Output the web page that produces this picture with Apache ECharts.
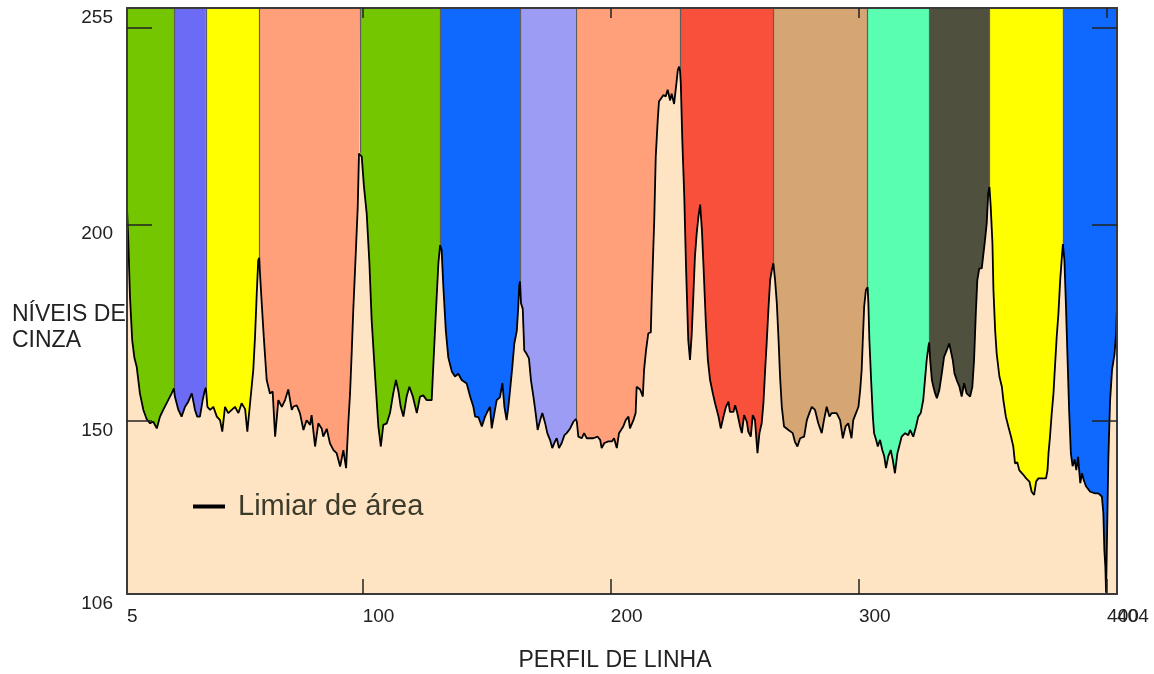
<!DOCTYPE html>
<html>
<head>
<meta charset="utf-8">
<title>Perfil de linha</title>
<script src="https://cdn.jsdelivr.net/npm/echarts@6/dist/echarts.min.js"></script>
<style>
  html, body { margin: 0; padding: 0; background: #ffffff; }
  #chart { width: 1154px; height: 674px; }
</style>
</head>
<body>
<div id="chart"></div>
<script>
// Grey level sampled along the scan line: [position, grey level]
const profile = [
  [5.0,204],[5.5,196.4],[6.2,181.6],[7.1,170.5],[8.0,166],[8.9,163.8],[10.2,157.0],[11.6,152.8],[12.9,150.5],[14.3,149.4],[15.6,149.8],[17.0,148.1],[18.3,151.1],[19.6,152.8],[21.6,155.3],[23.0,157.0],[23.9,158.3],
  [24.3,156.2],[25.7,152.8],[27.0,151.1],[28.4,153.6],[29.7,154.9],[31.1,157.0],[32.4,152.8],[33.3,151.1],[34.4,151.1],[35.5,155.3],[36.4,157.9],[36.8,158.5],
  [37.4,153.6],[38.5,152.8],[39.8,153.6],[41.2,151.1],[42.5,150.2],[43.4,147.3],[44.5,153.6],[45.8,152.0],[47.2,152.8],[48.5,153.6],[49.9,152.0],[51.2,154.5],[52.6,153.0],[53.5,147.3],[54.6,154.5],[55.9,163.0],[56.6,171.4],[57.3,182.5],[57.9,190.9],[58.3,191.5],
  [58.6,187.5],[59.3,179.9],[60.2,170.6],[61.3,160.4],[62.6,157.0],[63.7,157.5],[64.7,146.0],[66.0,155.3],[67.4,153.6],[68.7,155.3],[70.0,158.0],[71.4,152.8],[72.0,153.6],[73.4,154.0],[74.7,152.0],[76.1,147.7],[77.4,150.2],[78.8,149.0],[79.4,151.5],[80.8,143.5],[82.1,149.4],[83.5,148.0],[84.1,146.0],[85.5,148.0],[86.8,144.3],[88.2,142.6],[89.5,141.8],[90.9,138.4],[92.2,142.6],[93.3,138.0],[94.2,149.4],[94.9,157.0],[95.6,168.0],[96.2,178.2],[97.2,192.6],[98.0,204.5],[98.5,218.0],[98.9,218.2],
  [99.6,217.2],[100.5,209.6],[101.6,202.8],[102.7,190.1],[103.6,175.7],[105.0,161.3],[106.3,148.6],[107.3,143.5],[108.3,149.0],[109.7,149.4],[111.0,152.0],[112.3,157.0],[113.4,160.4],[114.4,157.5],[115.3,153.6],[116.4,151.1],[117.7,156.2],[118.8,158.7],[120.2,156.2],[121.8,152.0],[123.1,156.2],[124.4,156.5],[125.8,155.3],[127.8,155.3],[128.5,164.7],[129.4,176.5],[130.5,190.1],[131.2,194.7],
  [131.8,193.5],[132.5,184.1],[133.5,172.9],[134.5,166.1],[135.9,162.6],[137.2,161.3],[138.5,162.0],[139.9,160.4],[141.9,159.5],[143.3,156.2],[144.6,153.6],[145.3,151.1],[146.6,151.0],[148.0,148.6],[149.3,151.1],[150.6,152.8],[151.3,153.6],[152.0,148.1],[153.3,152.8],[154.0,155.3],[155.3,156.0],[156.3,159.6],[157.1,153.6],[158.0,150.2],[158.7,153.6],[159.4,157.9],[160.3,163.8],[161.1,169.7],[162.1,172.9],[162.7,179.1],[163.1,184.6],[163.4,185.5],
  [163.8,179.9],[164.5,178.5],[165.1,168.0],[166.1,167.0],[167.0,165.9],[167.8,160.4],[168.8,156.2],[169.7,152.0],[170.5,147.7],[171.5,150.2],[172.4,152.0],[173.5,149.5],[174.4,146.9],[175.5,145.2],[176.4,143.1],[177.5,144.8],[178.2,145.6],[179.1,143.1],[180.2,144.4],[181.3,146.4],[182.2,146.9],[183.6,148.1],[184.9,149.8],[185.6,150.2],[185.9,150.5],
  [186.3,149.8],[186.9,146.0],[188.3,145.6],[189.2,146.9],[190.3,145.6],[192.9,145.6],[194.7,146.0],[195.7,145.2],[196.3,143.1],[197.4,144.4],[199.0,144.8],[200.4,144.8],[201.3,145.6],[202.4,143.1],[203.3,146.9],[205.0,148.6],[206.0,150.2],[207.1,151.1],[207.7,148.1],[209.1,150.2],[210.0,152.0],[210.4,158.7],[211.8,158.0],[212.9,156.2],[213.4,163.0],[214.2,168.0],[215.1,172.3],[216.1,172.5],[216.5,181.6],[217.1,193.5],[217.5,201.1],[218.1,217.2],[218.9,226.5],[219.4,231.2],[220.2,231.5],[221.2,232.9],[222.1,232.5],[222.9,234.2],[223.9,231.5],[224.5,233.2],[225.5,230.6],[226.3,235.1],[227.0,239.2],[227.5,240.1],[227.9,239.0],
  [228.2,235.9],[228.8,221.4],[229.6,207.0],[230.3,189.2],[231.2,170.6],[231.9,165.5],[232.6,172.0],[233.3,182.5],[233.9,191.8],[234.6,197.7],[235.3,201.9],[236.0,205.0],[236.7,198.6],[237.3,190.1],[238.3,174.8],[239.1,165.5],[240.0,160.4],[241.1,157.0],[242.0,154.5],[243.4,151.1],[244.3,148.1],[245.4,151.1],[246.4,153.6],[247.4,154.9],[248.0,152.3],[249.4,152.3],[250.1,154.0],[251.0,151.9],[252.1,148.6],[252.8,146.9],[253.7,151.5],[254.8,149.8],[255.4,147.3],[256.4,146.0],[257.2,151.5],[258.1,150.2],[259.1,141.8],[259.9,146.9],[260.8,149.4],[261.5,154.5],[262.2,163.0],[262.8,169.7],[263.5,178.2],[264.2,185.8],[264.9,188.4],[265.5,190.1],
  [266.2,185.8],[266.9,179.9],[267.6,170.6],[268.2,161.3],[268.9,153.6],[269.8,148.6],[271.6,147.7],[273.3,146.9],[274.2,144.7],[275.2,143.5],[276.3,145.6],[277.9,146.0],[279.0,150.2],[280.0,152.0],[281.0,153.6],[282.3,152.8],[283.6,149.4],[285.0,146.9],[285.9,150.2],[287.0,153.6],[288.1,151.1],[289.0,152.0],[291.0,152.0],[292.4,150.2],[293.5,145.6],[294.6,148.6],[295.7,149.4],[297.0,145.6],[297.7,150.2],[298.8,152.0],[299.8,153.6],[300.5,157.9],[301.1,163.0],[301.5,169.7],[302.1,179.1],[302.8,183.3],[303.5,184.0],
  [303.8,179.9],[304.2,170.6],[304.9,160.4],[305.6,151.1],[306.1,146.9],[306.9,145.2],[307.6,143.5],[308.5,145.2],[309.4,142.6],[310.2,141.0],[310.9,138.0],[311.8,141.0],[312.8,142.6],[313.6,140.2],[314.5,136.7],[315.5,141.8],[316.2,143.5],[317.2,146.0],[318.6,146.9],[319.9,146.4],[320.6,147.7],[321.9,146.0],[323.0,148.6],[323.9,151.1],[324.9,152.0],[325.9,155.3],[326.6,160.4],[327.3,165.5],[328.0,168.9],[328.3,170.0],
  [328.7,165.5],[329.4,160.4],[330.0,158.7],[330.7,157.0],[331.4,155.8],[332.4,157.9],[333.4,162.1],[334.3,166.3],[335.4,168.0],[336.4,169.7],[337.0,169.3],[337.8,165.5],[338.5,162.1],[339.4,160.4],[340.5,158.7],[341.4,156.2],[342.4,159.6],[343.4,157.0],[344.8,156.2],[345.7,158.7],[346.4,165.5],[347.1,177.4],[347.7,185.8],[348.5,188.8],[349.5,188.8],[350.1,189.2],[350.8,196.0],[351.5,200.3],[352.1,207.9],[352.6,209.5],
  [353.1,204.5],[353.8,195.2],[354.2,183.3],[354.9,172.9],[355.5,167.2],[356.6,161.3],[357.6,158.7],[358.2,155.3],[359.2,151.1],[360.2,148.6],[361.3,146.0],[362.2,143.5],[362.9,139.2],[363.8,139.5],[364.6,137.5],[366.0,136.5],[367.4,135.4],[368.7,134.6],[369.6,132.0],[370.6,131.2],[371.4,134.6],[372.3,135.4],[373.7,135.4],[375.4,135.4],[376.0,137.5],[376.4,141.8],[377.0,146.0],[377.7,152.0],[378.4,157.0],[379.0,163.8],[379.7,171.4],[380.4,177.4],[381.1,185.8],[381.8,191.8],[382.2,195.0],
  [382.8,190.9],[383.4,179.9],[384.0,167.2],[384.7,152.8],[385.4,141.8],[386.1,138.5],[386.9,140.2],[387.6,137.5],[388.3,140.9],[389.2,134.2],[389.9,136.7],[390.6,135.0],[391.5,133.4],[393.2,132.0],[395.2,131.6],[396.5,131.6],[397.9,130.8],[398.5,126.6],[398.9,117.2],[399.3,113.0],[399.6,106.3],[400.0,106.3],[400.5,140],[401.2,155],[402.0,163],[403.0,167],[403.6,172],[404.0,179]
];

// Region limits along the line (each region lies between two threshold peaks)
const bounds = [5, 23.9, 36.8, 58.3, 98.9, 131.2, 163.4, 185.9, 227.9, 265.5, 303.5, 328.3, 352.6, 382.2, 404];

// One fill colour per region, left to right
const regionColors = [
  '#73C600', '#6B6BF6', '#FFFF00', '#FFA07A', '#73C600', '#0F69FF', '#9D9CF4',
  '#FFA07A', '#F8503A', '#D5A574', '#5AFEB0', '#4F503E', '#FFFF00', '#0F69FF'
];

const xTickLabels = [5, 100, 200, 300, 400];
const xEndLabel = [404];
const xTicks = [100, 200, 300, 400];
const yTickLabels = [106, 150, 200, 255];
const yTicks = [150, 200, 250];

const FONT = 'Liberation Sans, Arial, sans-serif';
const frame = { show: true, onZero: false, lineStyle: { color: '#3a3a3a', width: 2 } };
const tickLine = { color: '#222', width: 1.5 };

// Each region is filled from the profile up to the top of the scale
const series = regionColors.map((color, i) => ({
  type: 'line',
  name: 'região ' + (i + 1),
  data: profile.filter(p => p[0] >= bounds[i] && p[0] <= bounds[i + 1]),
  symbol: 'none',
  silent: true,
  lineStyle: { width: 0, opacity: 0 },
  areaStyle: { origin: 'end', color: color, opacity: 1 },
  z: 2
}));

// Thin separators between neighbouring regions
const lookup = new Map(profile.map(p => [p[0], p[1]]));
const separators = bounds.slice(1, -1).map(b => [
  { coord: [b, 255] },
  { coord: [b, lookup.get(b)] }
]);

series.push({
  type: 'line',
  name: 'Limiar de área',
  data: profile,
  symbol: 'none',
  silent: true,
  lineStyle: { color: '#000000', width: 1.8 },
  itemStyle: { color: '#000000' },
  z: 5,
  markLine: {
    silent: true,
    symbol: 'none',
    label: { show: false },
    lineStyle: { color: '#5e5e5e', width: 1.2, type: 'solid' },
    emphasis: { disabled: true },
    data: separators
  }
});

const chart = echarts.init(document.getElementById('chart'));
chart.setOption({
  animation: false,
  backgroundColor: '#ffffff',
  grid: {
    left: 127, right: 37, top: 8, bottom: 80,
    containLabel: false, outerBoundsMode: 'none',
    show: true, backgroundColor: '#FFE4C4', borderWidth: 0
  },
  graphic: [{
    type: 'text',
    left: 12, top: 302,
    style: {
      text: 'NÍVEIS DE\nCINZA',
      font: '23px ' + FONT,
      lineHeight: 26,
      fill: '#222'
    }
  }],
  legend: {
    data: ['Limiar de área'],
    left: 188, top: 487,
    icon: 'rect', itemWidth: 32, itemHeight: 4,
    selectedMode: false,
    textStyle: { fontSize: 29, color: '#3b3b2b', fontFamily: FONT, padding: [0, 0, 0, 8] }
  },
  xAxis: [
    {
      type: 'value', min: 5, max: 404, position: 'bottom', z: 10,
      axisLine: frame,
      axisTick: { show: true, inside: true, length: 15, customValues: xTicks, lineStyle: tickLine },
      axisLabel: {
        customValues: xTickLabels, showMinLabel: true, hideOverlap: false,
        align: 'left', margin: 13, color: '#222', fontSize: 19, fontFamily: FONT
      },
      splitLine: { show: false },
      name: 'PERFIL DE LINHA', nameLocation: 'middle', nameGap: 55,
      nameTextStyle: { fontSize: 23, color: '#222', fontFamily: FONT, padding: [0, 14, 0, 0] }
    },
    {
      type: 'value', min: 5, max: 404, position: 'top', z: 10,
      axisLine: frame,
      axisTick: { show: true, inside: true, length: 10, customValues: xTicks, lineStyle: tickLine },
      axisLabel: { show: false },
      splitLine: { show: false }
    },
    {
      // end-of-line position label, drawn on its own so it sits over "400"
      type: 'value', min: 5, max: 404, position: 'bottom', offset: 0, z: 10,
      axisLine: { show: false },
      axisTick: { show: false },
      axisLabel: {
        customValues: xEndLabel, showMaxLabel: true,
        align: 'left', margin: 13, padding: [0, 0, 0, 0], color: '#222', fontSize: 19, fontFamily: FONT
      },
      splitLine: { show: false }
    }
  ],
  yAxis: [
    {
      type: 'value', min: 106, max: 255, position: 'left', z: 10,
      axisLine: frame,
      axisTick: { show: true, inside: true, length: 25, customValues: yTicks, lineStyle: tickLine },
      axisLabel: {
        customValues: yTickLabels, showMinLabel: true, showMaxLabel: true,
        margin: 14, verticalAlign: 'top', color: '#222', fontSize: 19, fontFamily: FONT
      },
      splitLine: { show: false }
    },
    {
      type: 'value', min: 106, max: 255, position: 'right', z: 10,
      axisLine: frame,
      axisTick: { show: true, inside: true, length: 25, customValues: yTicks, lineStyle: tickLine },
      axisLabel: { show: false },
      splitLine: { show: false }
    }
  ],
  series: series
});
</script>
</body>
</html>
